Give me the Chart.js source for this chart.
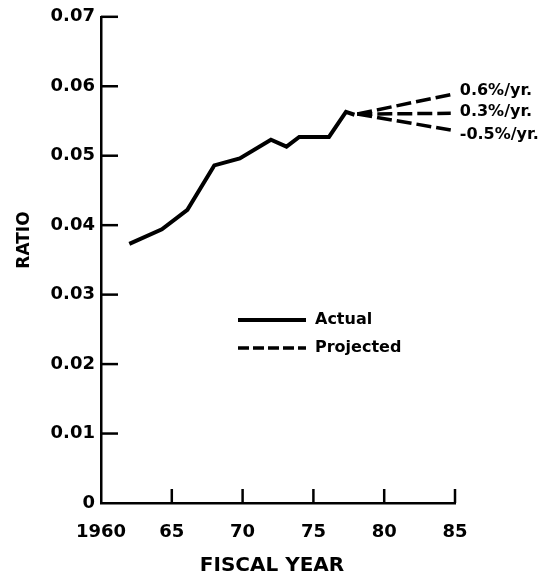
<!DOCTYPE html>
<html>
<head>
<meta charset="utf-8">
<script src="https://cdn.jsdelivr.net/npm/chart.js@4/dist/chart.umd.min.js"></script>
<style>
  body { margin: 0; background: #fff; }
</style>
</head>
<body>
<canvas id="ratio-chart" width="554" height="582"></canvas>
<script>
// Values
const actualYears = [1962, 1964.3, 1966.1, 1968, 1969.8, 1972, 1973.1, 1974, 1976.1, 1977.3, 1977.9];
const actualRatio = [0.0373, 0.0394, 0.0422, 0.0486, 0.0496, 0.0523, 0.0513, 0.0527, 0.0527, 0.0563, 0.0559];

const projYears = [1978.1, 1984.7];
const projHigh = [0.0560, 0.0588];   // 0.6%/yr.
const projMid = [0.0560, 0.0561];    // 0.3%/yr.
const projLow = [0.0560, 0.0537];    // -0.5%/yr.
const projLabels = ["0.6%/yr.", "0.3%/yr.", "-0.5%/yr."];

const xTickLabels = ["1960", "65", "70", "75", "80", "85"];
const yTickLabels = ["0", "0.01", "0.02", "0.03", "0.04", "0.05", "0.06", "0.07"];

const legendLabels = ["Actual", "Projected"];
const xTitle = "FISCAL YEAR";
const yTitle = "RATIO";

const FONT = "'DejaVu Sans', sans-serif";

function toPoints(xs, ys) {
    return xs.map((x, i) => ({ x: x, y: ys[i] }));
}

const dashStyle = {
    borderColor: "#000",
    borderWidth: 3.5,
    borderDash: [15, 5],
    pointRadius: 0,
    fill: false
};

// inward ticks, legend, notes and axis titles
const extras = {
    id: "extras",
    afterDraw(chart) {
        const ctx = chart.ctx;
        const xs = chart.scales.x;
        const ys = chart.scales.y;
        const area = chart.chartArea;
        ctx.save();
        ctx.strokeStyle = "#000";
        ctx.lineWidth = 2.5;
        ys.ticks.forEach(t => {
            if (t.value === 0) return;
            const y = ys.getPixelForValue(t.value);
            ctx.beginPath();
            ctx.moveTo(area.left, y);
            ctx.lineTo(area.left + 17, y);
            ctx.stroke();
        });
        xs.ticks.forEach(t => {
            if (t.value === xs.min) return;
            const x = xs.getPixelForValue(t.value);
            ctx.beginPath();
            ctx.moveTo(x, area.bottom);
            ctx.lineTo(x, area.bottom - 14);
            ctx.stroke();
        });

        // projection notes at the line ends
        ctx.fillStyle = "#000";
        ctx.font = "bold 16px " + FONT;
        ctx.textAlign = "left";
        ctx.textBaseline = "middle";
        const ends = [projHigh, projMid, projLow];
        const dy = [-4, -2, 5];
        ends.forEach((s, i) => {
            const px = xs.getPixelForValue(projYears[projYears.length - 1]);
            const py = ys.getPixelForValue(s[s.length - 1]);
            ctx.fillText(projLabels[i], px + 9, py + dy[i]);
        });

        // legend
        ctx.lineWidth = 4;
        ctx.beginPath();
        ctx.moveTo(238, 320);
        ctx.lineTo(306, 320);
        ctx.stroke();
        ctx.lineWidth = 3.5;
        ctx.setLineDash([11, 4]);
        ctx.beginPath();
        ctx.moveTo(238, 348);
        ctx.lineTo(306, 348);
        ctx.stroke();
        ctx.setLineDash([]);
        ctx.fillText(legendLabels[0], 315, 320);
        ctx.fillText(legendLabels[1], 315, 348);

        // axis titles
        ctx.textAlign = "center";
        ctx.font = "bold 20px " + FONT;
        ctx.fillText(xTitle, 272, 566);
        ctx.translate(25, 240);
        ctx.rotate(-Math.PI / 2);
        ctx.font = "bold 17px " + FONT;
        ctx.fillText(yTitle, 0, 0);
        ctx.restore();
    }
};

const chart = new Chart(document.getElementById("ratio-chart"), {
    type: "line",
    data: {
        datasets: [
            {
                label: legendLabels[0],
                data: toPoints(actualYears, actualRatio),
                borderColor: "#000",
                borderWidth: 4,
                pointRadius: 0,
                tension: 0,
                fill: false
            },
            Object.assign({ label: projLabels[0], data: toPoints(projYears, projHigh) }, dashStyle),
            Object.assign({ label: projLabels[1], data: toPoints(projYears, projMid) }, dashStyle),
            Object.assign({ label: projLabels[2], data: toPoints(projYears, projLow) }, dashStyle)
        ]
    },
    options: {
        responsive: false,
        animation: false,
        devicePixelRatio: 1,
        layout: { padding: { top: 15, right: 99, left: 0, bottom: 0 } },
        plugins: {
            legend: { display: false },
            tooltip: { enabled: false }
        },
        scales: {
            x: {
                type: "linear",
                min: 1960,
                max: 1985,
                grid: { display: false, drawTicks: false },
                border: { display: true, color: "#000", width: 2.5 },
                ticks: {
                    stepSize: 5,
                    padding: 19,
                    color: "#000",
                    font: { family: FONT, size: 18, weight: "bold" },
                    callback: (v, i) => xTickLabels[i]
                },
                afterFit: s => { s.height = 79; }
            },
            y: {
                type: "linear",
                min: 0,
                max: 0.07,
                grid: { display: false, drawTicks: false },
                border: { display: true, color: "#000", width: 2.5 },
                ticks: {
                    stepSize: 0.01,
                    padding: 6,
                    color: "#000",
                    font: { family: FONT, size: 18, weight: "bold" },
                    callback: (v, i) => yTickLabels[i]
                },
                afterFit: s => { s.width = 101; }
            }
        }
    },
    plugins: [extras]
});
</script>
</body>
</html>
